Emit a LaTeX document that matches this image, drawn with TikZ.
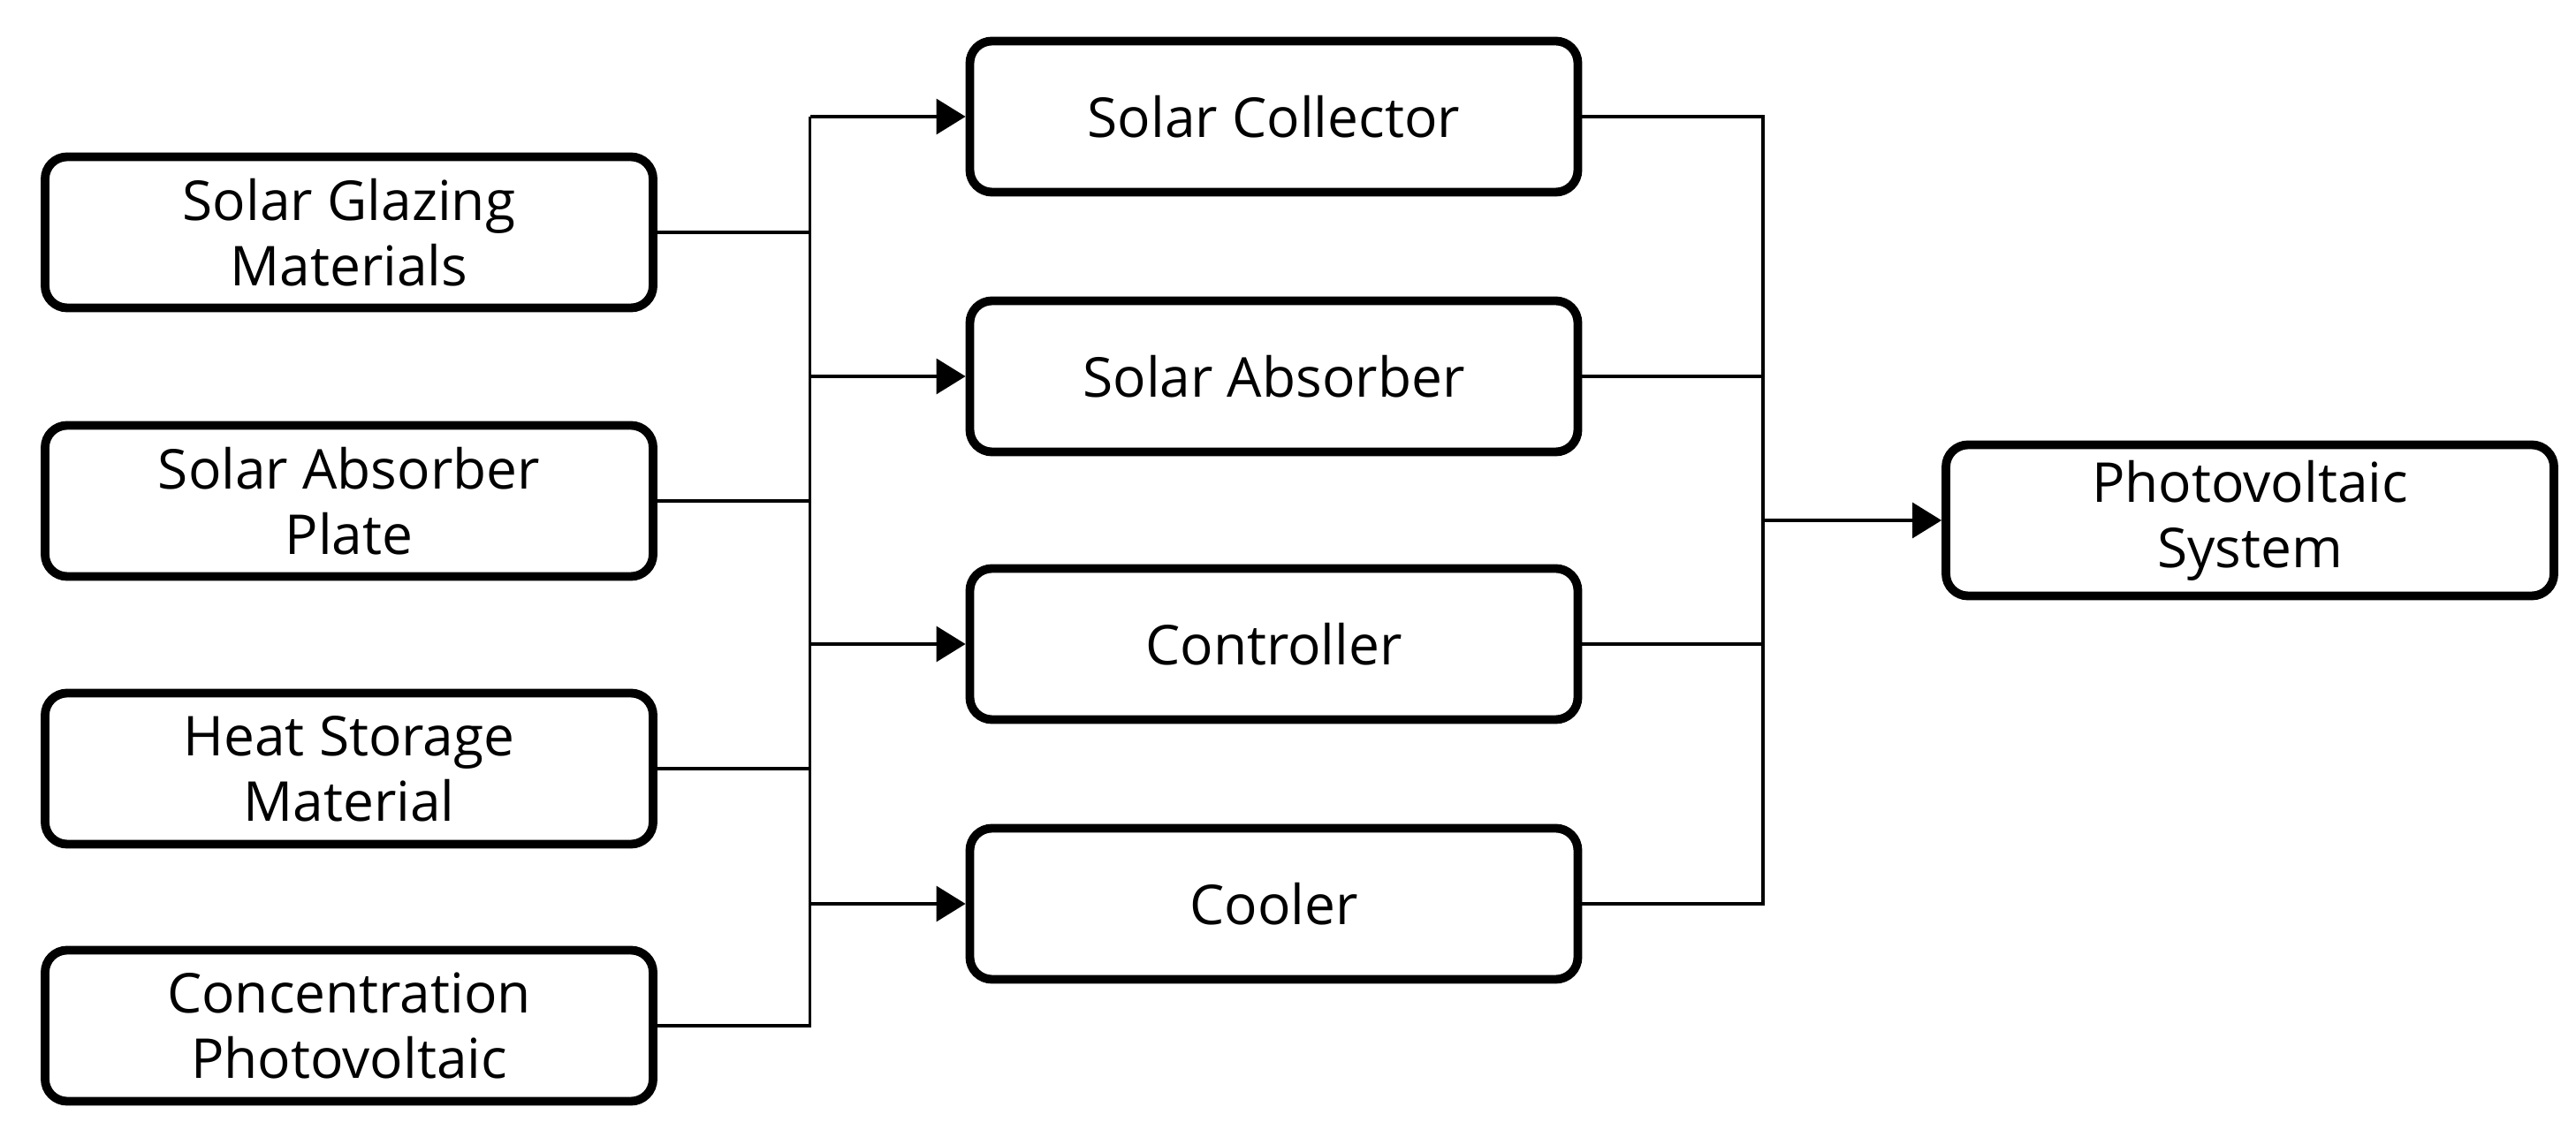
\documentclass[tikz,border=0pt]{standalone}
\usepackage{fontspec}
\setmainfont{Open Sans}
\usetikzlibrary{arrows.meta}
\begin{document}
\begin{tikzpicture}[
  box/.style={draw=black, line width=2.8pt, rounded corners=0.25cm,
    minimum width=6.88cm, minimum height=1.71cm, align=center,
    font=\fontsize{17.7}{21}\selectfont, inner sep=0pt},
  conn/.style={draw=black, line width=0.9pt},
  arr/.style={conn, -{Triangle[length=0.33cm, width=0.40cm]}}
]
\useasboundingbox (0,0) rectangle (29.15,12.96);
% left column
\node[box] (glz) at (3.95,10.33) {Solar Glazing\\Materials};
\node[box] (sap) at (3.95,7.29) {Solar Absorber\\Plate};
\node[box] (hsm) at (3.95,4.26) {Heat Storage\\Material};
\node[box] (cpv) at (3.95,1.35) {Concentration\\Photovoltaic};
% middle column
\node[box] (col) at (14.415,11.64) {Solar Collector};
\node[box] (abs) at (14.415,8.70) {Solar Absorber};
\node[box] (ctl) at (14.415,5.67) {Controller};
\node[box] (coo) at (14.415,2.73) {Cooler};
% right
\node[box] (pvs) at (25.46,7.07) {Photovoltaic\\System};
% buses
\coordinate (lb) at (9.165,0);
\coordinate (rb) at (19.95,0);
% left connectors
\draw[conn] (glz.east) -- (glz.east -| lb);
\draw[conn] (sap.east) -- (sap.east -| lb);
\draw[conn] (hsm.east) -- (hsm.east -| lb);
\draw[conn] (cpv.east) -- (cpv.east -| lb) -- (lb |- col.west);
\draw[arr] (lb |- col.west) -- (col.west);
\draw[arr] (lb |- abs.west) -- (abs.west);
\draw[arr] (lb |- ctl.west) -- (ctl.west);
\draw[arr] (lb |- coo.west) -- (coo.west);
% right connectors
\draw[conn] (col.east) -- (col.east -| rb) -- (rb |- coo.east) -- (coo.east);
\draw[conn] (abs.east) -- (abs.east -| rb);
\draw[conn] (ctl.east) -- (ctl.east -| rb);
\draw[arr] (rb |- pvs.west) -- (pvs.west);
\end{tikzpicture}
\end{document}
